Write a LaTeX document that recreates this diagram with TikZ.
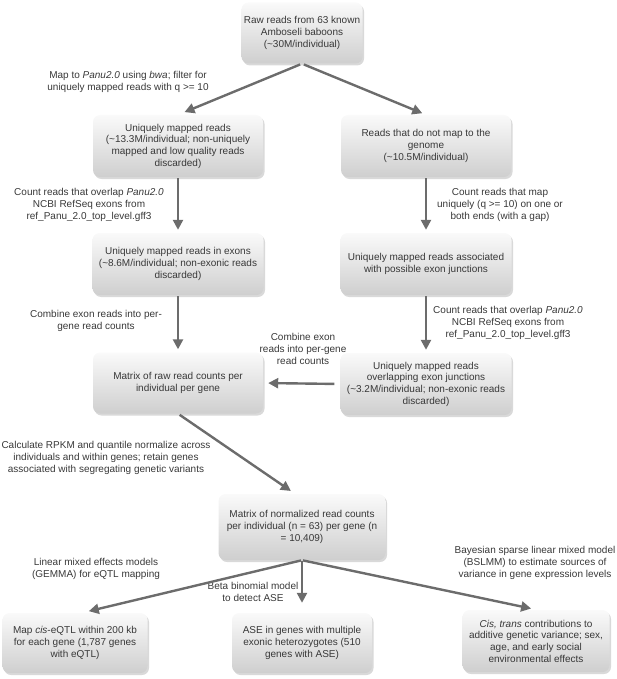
\documentclass[tikz,border=0pt]{standalone}
\usepackage{fontspec}
\setmainfont{Liberation Sans}
\usetikzlibrary{arrows.meta,shadows}
\definecolor{txt}{HTML}{383838}
\definecolor{arr}{HTML}{6C6C6C}
\begin{document}
\begin{tikzpicture}[x=1pt,y=-1pt,
  box/.style={rounded corners=7pt, top color=gray!4, bottom color=gray!38,
    drop shadow={shadow xshift=1.5pt,shadow yshift=-2pt,opacity=0.35,fill=gray!85},
    inner sep=0pt, align=center, text=txt, font=\fontsize{10}{11.7}\selectfont},
  lab/.style={inner sep=0pt, align=center, text=txt, font=\fontsize{10}{11.7}\selectfont},
  arrowst/.style={draw=arr, line width=2.4pt, -{Triangle[length=10pt,width=10pt]}}]
\useasboundingbox (0,0) rectangle (617,679);

% boxes
\node[box, minimum width=121pt, minimum height=61pt] (b1) at (302,33)
  {Raw reads from 63 known\\Amboseli baboons\\(\textasciitilde30M/individual)};
\node[box, minimum width=170pt, minimum height=62pt] (b2) at (178,146)
  {Uniquely mapped reads\\(\textasciitilde13.3M/individual; non-uniquely\\mapped and low quality reads\\discarded)};
\node[box, minimum width=170pt, minimum height=62pt] (b3) at (426,146)
  {Reads that do not map to the\\genome\\(\textasciitilde10.5M/individual)};
\node[box, minimum width=171pt, minimum height=62pt] (b4) at (178,264)
  {Uniquely mapped reads in exons\\(\textasciitilde8.6M/individual; non-exonic reads\\discarded)};
\node[box, minimum width=171pt, minimum height=62pt] (b5) at (426,264)
  {Uniquely mapped reads associated\\with possible exon junctions};
\node[box, minimum width=170pt, minimum height=61pt] (b6) at (178,383)
  {Matrix of raw read counts per\\individual per gene};
\node[box, minimum width=171pt, minimum height=62pt] (b7) at (426,384)
  {Uniquely mapped reads\\overlapping exon junctions\\(\textasciitilde3.2M/individual; non-exonic reads\\discarded)};
\node[box, minimum width=167pt, minimum height=66pt] (b8) at (302,527)
  {Matrix of normalized read counts\\per individual (n = 63) per gene (n\\= 10,409)};
\node[box, minimum width=145pt, minimum height=60pt] (b9) at (75,643)
  {Map \textit{cis}-eQTL within 200 kb\\for each gene (1,787 genes\\with eQTL)};
\node[box, minimum width=140pt, minimum height=60pt] (b10) at (302,643)
  {ASE in genes with multiple\\exonic heterozygotes (510\\genes with ASE)};
\node[box, minimum width=147pt, minimum height=62pt] (b11) at (536,641)
  {\textit{Cis, trans} contributions to\\additive genetic variance; sex,\\age, and early social\\environmental effects};

% labels
\node[lab] (l1) at (128,82) {Map to \textit{Panu2.0} using \textit{bwa}; filter for\\uniquely mapped reads with q >= 10};
\node[lab] (l2) at (89,205) {Count reads that overlap \textit{Panu2.0}\\NCBI RefSeq exons from\\ref\_Panu\_2.0\_top\_level.gff3};
\node[lab] (l3) at (500,205) {Count reads that map\\uniquely (q >= 10) on one or\\both ends (with a gap)};
\node[lab] (l4) at (96,321) {Combine exon reads into per-\\gene read counts};
\node[lab] (l5) at (508,323) {Count reads that overlap \textit{Panu2.0}\\NCBI RefSeq exons from\\ref\_Panu\_2.0\_top\_level.gff3};
\node[lab] (l6) at (303,349) {Combine exon\\reads into per-gene\\read counts};
\node[lab] (l7) at (106,458) {Calculate RPKM and quantile normalize across\\individuals and within genes; retain genes\\associated with segregating genetic variants};
\node[lab] (l8) at (96,569) {Linear mixed effects models\\(GEMMA) for eQTL mapping};
\node[lab] (l9) at (253,592) {Beta binomial model\\to detect ASE};
\node[lab] (l10) at (535,563) {Bayesian sparse linear mixed model\\(BSLMM) to estimate sources of\\variance in gene expression levels};

% arrows
\draw[arrowst, shorten <=2pt, shorten >=7pt] (b1.south) -- (b2.north);
\draw[arrowst, shorten <=2pt, shorten >=4pt] (b1.south) -- (b3.north);
\draw[arrowst, shorten <=1pt, shorten >=3pt] (b2.south) -- (b4.north);
\draw[arrowst, shorten <=1pt, shorten >=3pt] (b3.south) -- (b5.north);
\draw[arrowst, shorten <=1pt, shorten >=3pt] (b4.south) -- (b6.north);
\draw[arrowst, shorten <=1pt, shorten >=3pt] (b5.south) -- (b7.north);
\draw[arrowst, shorten <=6pt, shorten >=5pt] (b7.west) -- (b6.east);
\draw[arrowst, shorten <=2pt, shorten >=5pt] (b6.south) -- ([xshift=-7pt]b8.north);
\draw[arrowst, shorten <=1pt, shorten >=7pt] (b8.south) -- ([xshift=7pt]b9.north);
\draw[arrowst, shorten <=1pt, shorten >=10pt] (b8.south) -- (b10.north);
\draw[arrowst, shorten <=1pt, shorten >=6pt] (b8.south) -- ([xshift=1pt]b11.north);
\end{tikzpicture}
\end{document}
